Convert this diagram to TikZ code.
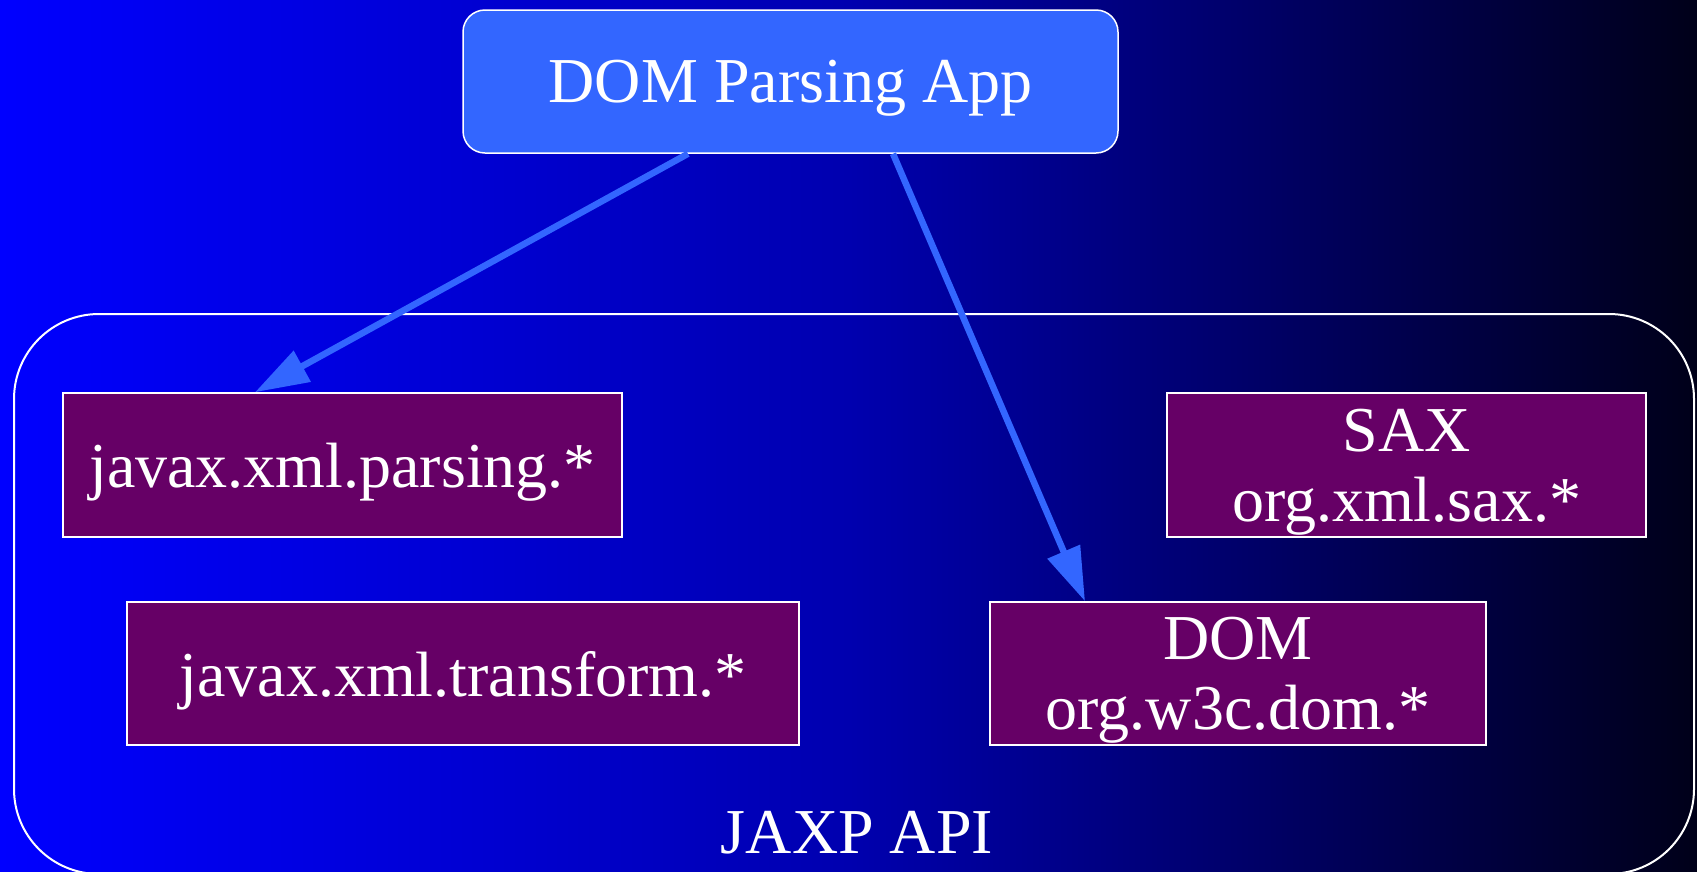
\documentclass[tikz,border=0pt]{standalone}
\usepackage{fontspec}
\setmainfont{Liberation Serif}
\usetikzlibrary{arrows.meta}
\definecolor{bgleft}{RGB}{0,0,255}
\definecolor{bgmid}{RGB}{0,0,175}
\definecolor{bgright}{RGB}{0,0,25}
\definecolor{appblue}{RGB}{51,102,255}
\definecolor{pkgpurple}{RGB}{102,0,102}
% the filled path spans 25bp..75bp of the shading
\pgfdeclarehorizontalshading{bgshade}{100bp}{color(0bp)=(bgleft); color(25bp)=(bgleft); color(50bp)=(bgmid); color(75bp)=(bgright); color(100bp)=(bgright)}
\tikzset{
  txt/.style={text=white, font=\fontsize{64}{70}\selectfont, align=center, inner sep=0pt},
  pkg/.style={txt, draw=white, line width=1.5pt, fill=pkgpurple, text depth=-5pt},
  appbox/.style={txt, draw=white, line width=1.5pt, fill=appblue, rounded corners=22pt, text depth=-12pt},
  link/.style={draw=appblue, line width=6.5pt, -{Triangle[length=54pt,width=34pt]}, shorten >=0pt},
}
\begin{document}
\begin{tikzpicture}[x=1pt,y=-1pt]
  \useasboundingbox (0,0) rectangle (1697,871);
  \clip (0,0) rectangle (1697,871);
  % background
  \fill[shading=bgshade] (0,0) rectangle (1697,871);
  % API frame
  \draw[white, line width=2pt, rounded corners=85pt] (14,314) rectangle (1694,874);
  \node[txt, anchor=base] (api) at (857,853) {JAXP API};
  % application
  \node[appbox, minimum width=655pt, minimum height=143pt] (app) at (790.5,81.5) {DOM Parsing App};
  % packages
  \node[pkg, minimum width=559pt, minimum height=144pt] (parse) at (342.5,465) {javax.xml.parsing.*};
  \node[pkg, minimum width=672pt, minimum height=143pt] (trans) at (463,673.5) {javax.xml.transform.*};
  \node[pkg, minimum width=479pt, minimum height=144pt] (sax) at (1406.5,465) {SAX\\org.xml.sax.*};
  \node[pkg, minimum width=496pt, minimum height=143pt] (dom) at (1238,673.5) {DOM\\org.w3c.dom.*};
  % connector ends
  \coordinate (appL) at (app.south west -| 688,0);
  \coordinate (appR) at (app.south west -| 893,0);
  \coordinate (parseIn) at (parse.north west -| 255,0);
  \coordinate (domIn) at (dom.north west -| 1085,0);
  \draw[link] (appL) -- (parseIn);
  \draw[link] (appR) -- (domIn);
\end{tikzpicture}
\end{document}
